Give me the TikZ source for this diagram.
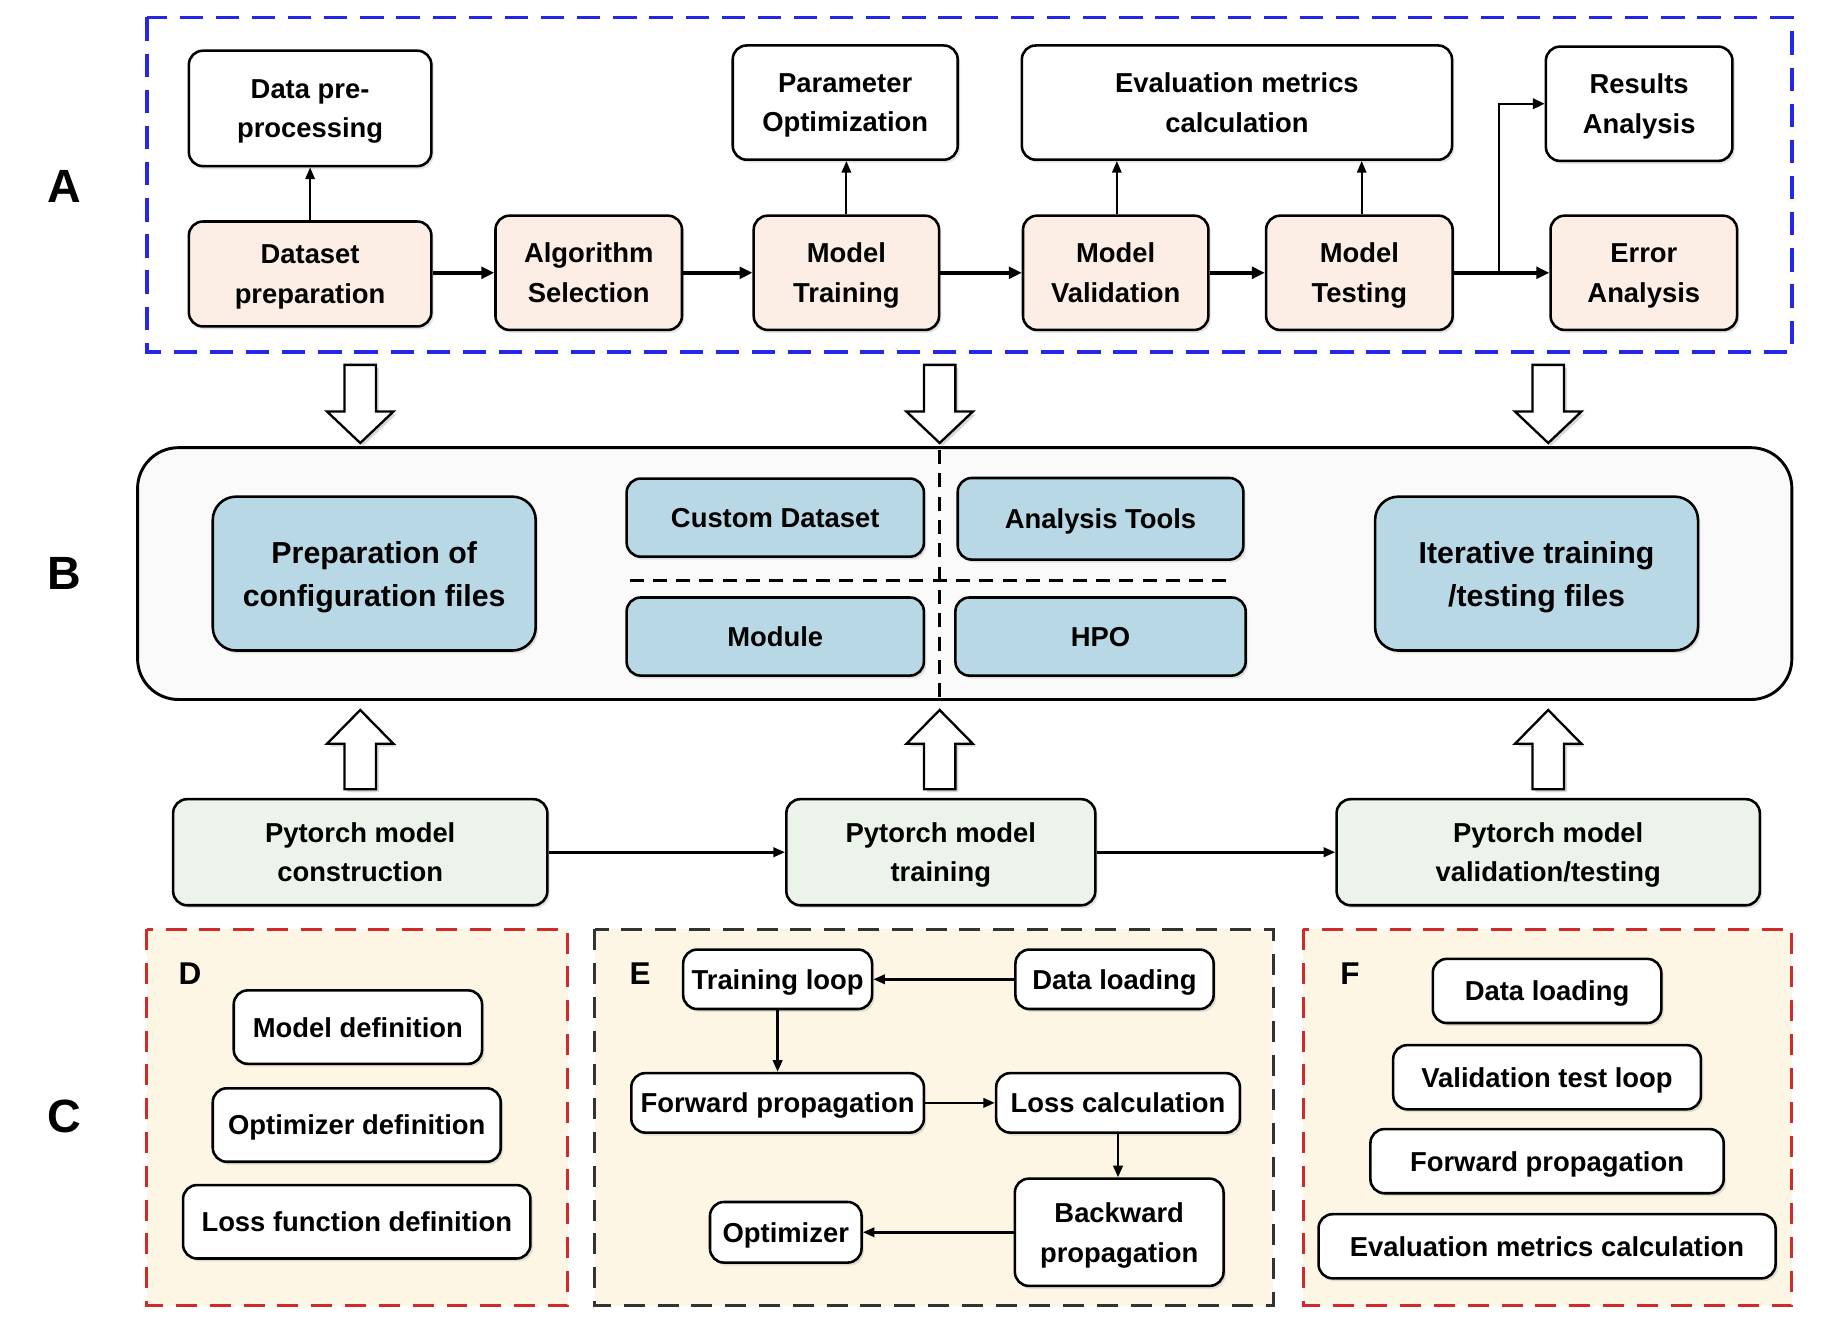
\documentclass[tikz,border=0pt]{standalone}
\usepackage{fontspec}
\setmainfont{Liberation Sans}
\usetikzlibrary{arrows.meta,shadows,calc}
\definecolor{peach}{HTML}{FCEEE5}
\definecolor{lblue}{HTML}{B9D8E6}
\definecolor{lgreen}{HTML}{EBF3EA}
\definecolor{cream}{HTML}{FDF6E4}
\definecolor{panelgray}{HTML}{FAFAFA}
\definecolor{dblue}{HTML}{2626E8}
\definecolor{dred}{HTML}{D02A2A}
\definecolor{dgray}{HTML}{333333}
\newcommand\hollowdown[1]{%
  \draw[hollow] (#1-13.5,313) -- (#1+13.5,313) -- (#1+13.5,353) -- (#1+28.5,353) -- (#1,380) -- (#1-28.5,353) -- (#1-13.5,353) -- cycle;}
\newcommand\hollowup[1]{%
  \draw[hollow] (#1-13.5,677) -- (#1+13.5,677) -- (#1+13.5,638) -- (#1+28.5,638) -- (#1,609) -- (#1-28.5,638) -- (#1-13.5,638) -- cycle;}
\begin{document}
\begin{tikzpicture}[x=1pt,y=-1pt,
  box/.style={draw=black, line width=2.2pt, rounded corners=12pt, align=center, inner sep=0pt,
    text depth=0pt,
    font=\fontsize{23.5}{34}\selectfont\bfseries,
    drop shadow={opacity=0.22, shadow xshift=2pt, shadow yshift=-2.5pt}},
  bigbox/.style={box, rounded corners=20pt, font=\fontsize{26}{37}\selectfont\bfseries},
  secl/.style={font=\fontsize{40}{40}\selectfont\bfseries},
  subl/.style={font=\fontsize{27}{27}\selectfont\bfseries},
  hollow/.style={draw=black, line width=2pt, fill=white, line join=miter,
    drop shadow={opacity=0.3, shadow xshift=2.5pt, shadow yshift=-2.5pt}},
  thickarr/.style={line width=3pt, -{Triangle[length=11pt,width=10pt]}},
  thinarr/.style={line width=1.8pt, -{Triangle[length=10pt,width=8pt]}},
  earr/.style={line width=2.3pt, -{Triangle[length=10pt,width=8pt]}},
]
\fill[white] (0,0) rectangle (1568,1145);
\useasboundingbox (0,0) rectangle (1568,1145);

% section labels
\node[secl] (lA) at (55,160) {A};
\node[secl] (lB) at (55,492) {B};
\node[secl] (lC) at (55,958) {C};

% ---------- Panel A ----------
\draw[dblue, line width=3pt, dash pattern=on 20pt off 11pt] (126,15) rectangle (1537,302);

\node[box, fill=white, minimum width=208pt, minimum height=99pt] (dpp) at (266,93) {Data pre-\\processing};
\node[box, fill=white, minimum width=193pt, minimum height=98pt] (po) at (725,88) {Parameter\\Optimization};
\node[box, fill=white, minimum width=369pt, minimum height=98pt] (em) at (1061,88) {Evaluation metrics\\calculation};
\node[box, fill=white, minimum width=160pt, minimum height=98pt] (ra) at (1406,89) {Results\\Analysis};

\node[box, fill=peach, minimum width=208pt, minimum height=90pt] (dsp) at (266,235) {Dataset\\preparation};
\node[box, fill=peach, minimum width=160pt, minimum height=98pt] (as) at (505,234) {Algorithm\\Selection};
\node[box, fill=peach, minimum width=159pt, minimum height=98pt] (mt) at (726,234) {Model\\Training};
\node[box, fill=peach, minimum width=159pt, minimum height=98pt] (mv) at (957,234) {Model\\Validation};
\node[box, fill=peach, minimum width=160pt, minimum height=98pt] (mte) at (1166,234) {Model\\Testing};
\node[box, fill=peach, minimum width=160pt, minimum height=98pt] (ea) at (1410,234) {Error\\Analysis};

\draw[thinarr] (dsp.north) -- (dsp.north |- dpp.south);
\draw[thinarr] (mt.north) -- (mt.north |- po.south);
\draw[thinarr] ([xshift=1pt]mv.north) -- ([xshift=1pt]mv.north |- em.south);
\draw[thinarr] ([xshift=2pt]mte.north) -- ([xshift=2pt]mte.north |- em.south);
\draw[thickarr] (dsp.east |- as.west) -- (as.west);
\draw[thickarr] (as.east) -- (mt.west);
\draw[thickarr] (mt.east) -- (mv.west);
\draw[thickarr] (mv.east) -- (mte.west);
\draw[thickarr] (mte.east) -- (ea.west);
\coordinate (br) at (1286,234);
\draw[line width=2pt, -{Triangle[length=10pt,width=9pt]}] (br) |- (ra.west);

% ---------- hollow arrows ----------
\hollowdown{309}
\hollowdown{806}
\hollowdown{1328}

% ---------- Panel B ----------
\node[draw=black, line width=2.5pt, rounded corners=35pt, fill=panelgray,
  minimum width=1419pt, minimum height=216pt, inner sep=0pt] (pB) at (827.5,492) {};
\draw[line width=2pt, dash pattern=on 12pt off 8pt] (806,386) -- (806,598);
\draw[line width=2pt, dash pattern=on 12pt off 8pt] (540,498) -- (1058,498);

\node[bigbox, fill=lblue, minimum width=277pt, minimum height=132pt] (pcf) at (321,492) {Preparation of\\configuration files};
\node[box, fill=lblue, minimum width=255pt, minimum height=67pt] (cd) at (665,444) {Custom Dataset};
\node[box, fill=lblue, minimum width=255pt, minimum height=67pt] (mo) at (665,546) {Module};
\node[box, fill=lblue, minimum width=245pt, minimum height=70pt] (at) at (944,445) {Analysis Tools};
\node[box, fill=lblue, minimum width=249pt, minimum height=67pt] (hpo) at (944,546) {HPO};
\node[bigbox, fill=lblue, minimum width=277pt, minimum height=132pt] (itf) at (1318,492) {Iterative training\\/testing files};

\hollowup{309}
\hollowup{806}
\hollowup{1328}

% ---------- Green row ----------
\node[box, fill=lgreen, minimum width=321pt, minimum height=91pt] (pc) at (309,731) {Pytorch model\\construction};
\node[box, fill=lgreen, minimum width=265pt, minimum height=91pt] (pt) at (807,731) {Pytorch model\\training};
\node[box, fill=lgreen, minimum width=363pt, minimum height=91pt] (pv) at (1328,731) {Pytorch model\\validation/testing};
\draw[earr] (pc.east) -- (pt.west);
\draw[earr] (pt.east) -- (pv.west);

% ---------- Panels D, E, F ----------
\draw[dred, fill=cream, line width=2.5pt, dash pattern=on 18pt off 11pt] (126,797) rectangle (487,1120);
\draw[dgray, fill=cream, line width=2.5pt, dash pattern=on 18pt off 11pt] (510,797) rectangle (1092,1120);
\draw[dred, fill=cream, line width=2.5pt, dash pattern=on 18pt off 11pt] (1118,797) rectangle (1537,1120);

\node[subl] (lD) at (163,835) {D};
\node[subl] (lE) at (549,835) {E};
\node[subl] (lF) at (1158,835) {F};

% D
\node[box, fill=white, minimum width=213pt, minimum height=63pt] (md) at (307,881) {Model definition};
\node[box, fill=white, minimum width=247pt, minimum height=63pt] (od) at (306,965) {Optimizer definition};
\node[box, fill=white, minimum width=298pt, minimum height=63pt] (lfd) at (306,1048) {Loss function definition};

% E
\node[box, fill=white, minimum width=162pt, minimum height=51pt] (tl) at (667,840) {Training loop};
\node[box, fill=white, minimum width=170pt, minimum height=51pt] (dl) at (956,840) {Data loading};
\node[box, fill=white, minimum width=251pt, minimum height=51pt] (fp) at (667,946) {Forward propagation};
\node[box, fill=white, minimum width=209pt, minimum height=51pt] (lc) at (959,946) {Loss calculation};
\node[box, fill=white, minimum width=179pt, minimum height=92pt] (bp) at (960,1057) {Backward\\propagation};
\node[box, fill=white, minimum width=130pt, minimum height=52pt] (op) at (674,1057) {Optimizer};

\draw[earr] (dl.west) -- (tl.east);
\draw[earr] (tl.south) -- (fp.north);
\draw[earr] (fp.east) -- (lc.west);
\draw[earr] (lc.south) -- (lc.south |- bp.north);
\draw[earr] (bp.west) -- (op.east);

% F
\node[box, fill=white, minimum width=196pt, minimum height=55pt] (fdl) at (1327,850) {Data loading};
\node[box, fill=white, minimum width=264pt, minimum height=55pt] (vtl) at (1327,924) {Validation test loop};
\node[box, fill=white, minimum width=303pt, minimum height=55pt] (ffp) at (1327,996) {Forward propagation};
\node[box, fill=white, minimum width=392pt, minimum height=55pt] (emc) at (1327,1069) {Evaluation metrics calculation};
\end{tikzpicture}
\end{document}
